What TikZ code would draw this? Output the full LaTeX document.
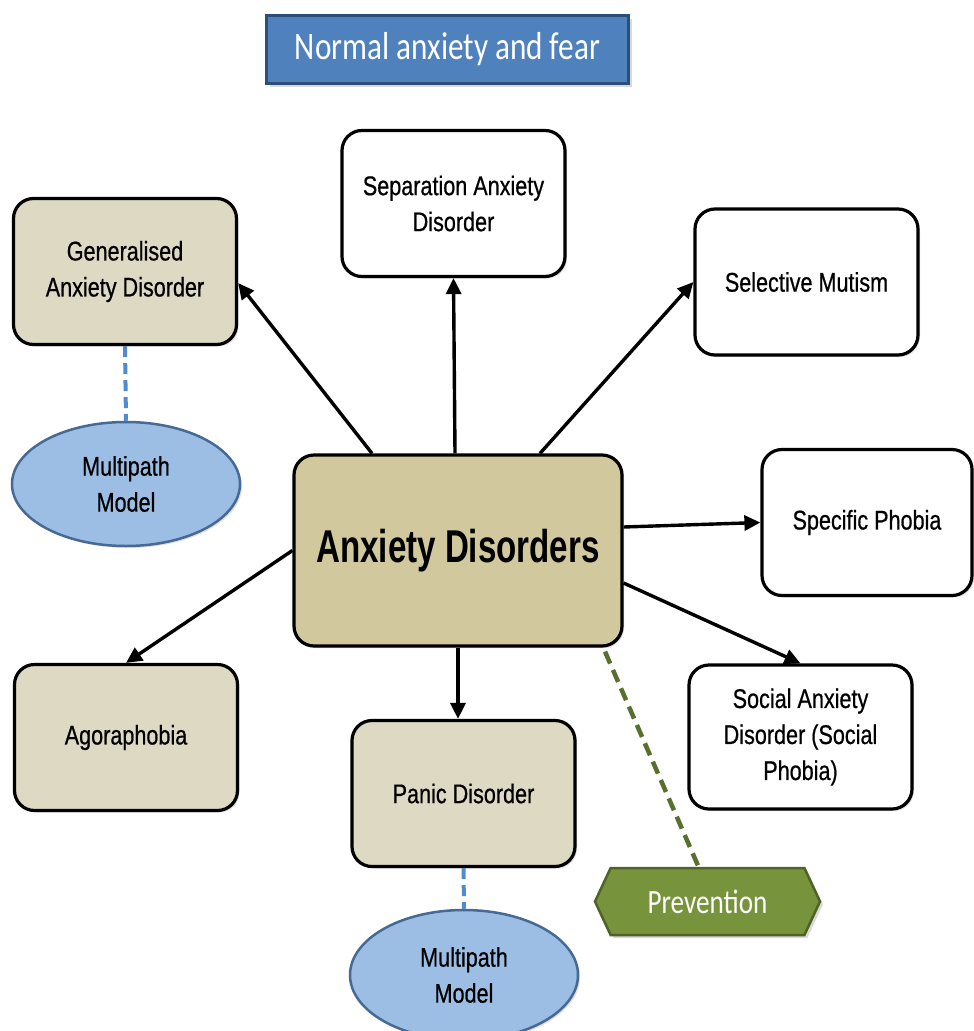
\documentclass[tikz,border=0pt]{standalone}
\usepackage{fontspec}
\setmainfont{Liberation Sans}[FakeStretch=0.8,FakeBold=0.6]
\newfontfamily\boldnarrow{Liberation Sans}[FakeStretch=0.72]
\newfontfamily\calib{Carlito}[FakeStretch=0.8]
\usetikzlibrary{arrows.meta,shapes.geometric,shapes.symbols,shadows,calc}
\definecolor{beige}{RGB}{221,217,195}
\definecolor{centralfill}{RGB}{209,200,158}
\definecolor{ellfill}{RGB}{157,190,228}
\definecolor{elldraw}{RGB}{70,105,150}
\definecolor{topfill}{RGB}{79,129,189}
\definecolor{topdraw}{RGB}{45,78,120}
\definecolor{prevfill}{RGB}{119,147,60}
\definecolor{prevdraw}{RGB}{79,98,40}
\definecolor{bluedash}{RGB}{80,140,205}
\definecolor{greendash}{RGB}{88,112,45}
\tikzset{
  box/.style={draw=black, line width=3.2pt, rounded corners=20pt, align=center,
     minimum width=223pt, minimum height=146pt, font=\fontsize{27}{36}\selectfont,
     inner sep=4pt, drop shadow={shadow xshift=2pt, shadow yshift=-2pt, opacity=0.25}},
  wbox/.style={box, fill=white},
  bbox/.style={box, fill=beige},
  ell/.style={ellipse, draw=elldraw, line width=2.5pt, fill=ellfill, align=center,
     minimum width=228pt, inner sep=0pt, font=\fontsize{27}{36}\selectfont,
     drop shadow={shadow xshift=2pt, shadow yshift=-2pt, opacity=0.25}},
  arr/.style={line width=3.4pt, -{Triangle[length=16pt,width=15pt]}},
  bdash/.style={draw=bluedash, line width=4pt, dash pattern=on 11pt off 6pt},
  gdash/.style={draw=greendash, line width=4.5pt, dash pattern=on 13pt off 7pt},
}
\begin{document}
\begin{tikzpicture}[x=1pt,y=-1pt]
\useasboundingbox (0,0) rectangle (974,1031);
% title
\node[draw=topdraw, line width=3pt, fill=topfill, text=white, minimum width=362pt,
  minimum height=68pt, font=\calib\fontsize{39}{44}\selectfont,
  drop shadow={shadow xshift=3pt, shadow yshift=-3pt, opacity=0.3}]
  (top) at (447.5,49.5) {Normal anxiety and fear};
% boxes
\node[wbox] (sep) at (453.5,203.5) {Separation Anxiety\\Disorder};
\node[bbox] (gen) at (125,271.5) {Generalised\\Anxiety Disorder};
\node[wbox] (sel) at (806.5,282) {Selective Mutism};
\node[wbox, minimum width=210pt] (spec) at (867,522.5) {Specific Phobia};
\node[bbox] (ago) at (126,737.5) {Agoraphobia};
\node[bbox] (panic) at (463.5,793.5) {Panic Disorder};
\node[wbox, minimum height=144pt] (social) at (800.5,737) {Social Anxiety\\Disorder (Social\\Phobia)};
\node[box, fill=centralfill, minimum width=328pt, minimum height=191pt,
  font=\boldnarrow\bfseries\fontsize{46}{50}\selectfont] (central) at (458,550.5) {Anxiety Disorders};
% ellipses
\node[ell, minimum height=124pt] (mp1) at (126,484) {Multipath\\Model};
\node[ell, minimum height=130pt] (mp2) at (464,975) {Multipath\\Model};
% prevention
\node[signal, signal to=east and west, signal pointer angle=130, draw=prevdraw,
  line width=2.5pt, fill=prevfill, text=white, minimum width=225pt, minimum height=67pt,
  inner sep=0pt, font=\calib\fontsize{34}{40}\selectfont,
  drop shadow={shadow xshift=3pt, shadow yshift=-3pt, opacity=0.3}]
  (prev) at (707.5,901.5) {Prevention};
% arrows
\draw[arr] ([xshift=-86pt]central.north) -- ([yshift=-11.5pt]gen.east);
\draw[arr] ([xshift=-3pt]central.north) -- (sep.south);
\draw[arr] ([xshift=82pt]central.north) -- (sel.west);
\draw[arr] ([yshift=23.5pt]central.east) -- (spec.west);
\draw[arr] ([yshift=-32.5pt]central.east) -- (social.north);
\draw[arr] (central.south) -- ([xshift=-5.5pt]panic.north);
\draw[arr] (central.west) -- (ago.north);
% dashed links
\draw[bdash] (gen.south) -- (mp1.north);
\draw[bdash] (panic.south) -- (mp2.north);
\draw[gdash] ([xshift=147pt,yshift=-4pt]central.south) -- ([xshift=-9pt]prev.north);
\end{tikzpicture}
\end{document}
